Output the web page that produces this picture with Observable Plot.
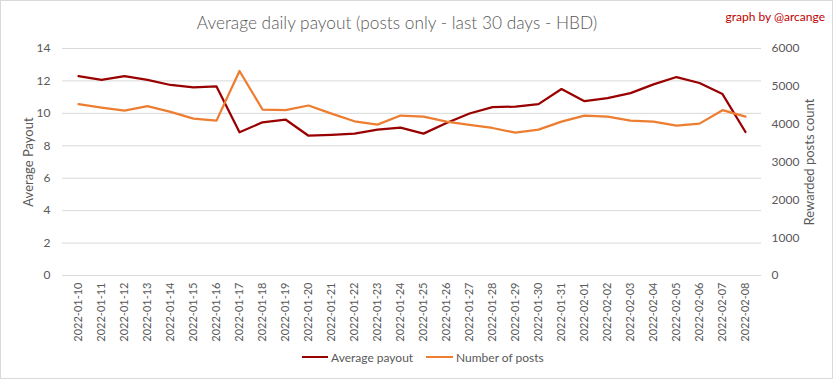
<!DOCTYPE html>
<html><head><meta charset="utf-8">
<script src="https://cdn.jsdelivr.net/npm/d3@7"></script>
<script src="https://cdn.jsdelivr.net/npm/@observablehq/plot@0.6"></script>
<style>
body{margin:0;background:#fff;font-family:Lato,"Open Sans",sans-serif;}
#chart{position:relative;width:833px;height:379px;overflow:hidden;background:#fff;}
#frame{position:absolute;left:0;top:0;right:0;bottom:0;border:1px solid #d9d9d9;pointer-events:none;}
#title{position:absolute;left:397px;top:22px;transform:translate(-50%,-50%);white-space:nowrap;font-size:17.3px;font-weight:300;color:#595959;}
#credit{position:absolute;right:8px;top:16px;transform:translateY(-50%);white-space:nowrap;font-size:12px;color:#c00000;}
#plot{position:absolute;left:0;top:40px;}
.ytitle{position:absolute;white-space:nowrap;font-size:13px;color:#595959;transform:translate(-50%,-50%) rotate(-90deg);}
.lg-line{position:absolute;height:2px;top:356px;}
.lg-text{position:absolute;top:357px;transform:translateY(-50%);font-size:12px;color:#595959;white-space:nowrap;}
</style></head><body>
<div id="chart">
  <div id="title">Average daily payout (posts only - last 30 days - HBD)</div>
  <div id="credit">graph by @arcange</div>
  <div id="plot"></div>
  <div class="ytitle" style="left:28px;top:162px;">Average Payout</div>
  <div class="ytitle" style="left:809px;top:162px;">Rewarded posts count</div>
  <div class="lg-line" style="left:302px;width:26px;background:#990000;"></div>
  <div class="lg-text" style="left:331px;">Average payout</div>
  <div class="lg-line" style="left:426px;width:27px;background:#ED7D31;"></div>
  <div class="lg-text" style="left:456px;">Number of posts</div>
  <div id="frame"></div>
</div>
<script>
const dates = ["2022-01-10","2022-01-11","2022-01-12","2022-01-13","2022-01-14","2022-01-15","2022-01-16","2022-01-17","2022-01-18","2022-01-19","2022-01-20","2022-01-21","2022-01-22","2022-01-23","2022-01-24","2022-01-25","2022-01-26","2022-01-27","2022-01-28","2022-01-29","2022-01-30","2022-01-31","2022-02-01","2022-02-02","2022-02-03","2022-02-04","2022-02-05","2022-02-06","2022-02-07","2022-02-08"];
const payout = [12.30,12.06,12.30,12.06,11.75,11.60,11.66,8.83,9.45,9.62,8.62,8.68,8.75,9.00,9.12,8.75,9.40,9.99,10.38,10.42,10.57,11.50,10.75,10.94,11.25,11.79,12.24,11.87,11.19,8.85];
const posts = [4528,4440,4360,4475,4325,4147,4094,5406,4387,4369,4493,4280,4076,3988,4227,4201,4068,3979,3899,3775,3855,4068,4227,4201,4094,4068,3961,4015,4369,4201];
const leftTicks = [0,2,4,6,8,10,12,14];
const rightTicks = [0,1000,2000,3000,4000,5000,6000];
const leftMax = 14, rightMax = 6000;

const data = dates.map((d,i)=>({date:d, payout:payout[i], posts:posts[i]}));
const toLeft = v => v * leftMax / rightMax;

const chart = Plot.plot({
  width: 833,
  height: 310,
  marginLeft: 62,
  marginRight: 72,
  marginTop: 8,
  marginBottom: 75,
  style: {color:"#595959", fontFamily:"Lato, 'Open Sans', sans-serif", fontSize:"12px", background:"transparent"},
  x: {type:"point", domain: dates, padding: 0.5},
  y: {domain:[0, leftMax]},
  marks: [
    Plot.gridY(leftTicks, {stroke:"#d9d9d9", strokeOpacity:1, strokeWidth:1}),
    Plot.line(data, {x:"date", y:"payout", stroke:"#990000", strokeWidth:2.25}),
    Plot.line(data, {x:"date", y: d => toLeft(d.posts), stroke:"#ED7D31", strokeWidth:2.25}),
    Plot.axisY(leftTicks, {anchor:"left", tickSize:0, tickPadding:12, label:null, fontSize:12}),
    Plot.axisY(rightTicks.map(toLeft), {anchor:"right", tickSize:0, tickPadding:10, label:null, fontSize:12, textAnchor:"start", tickFormat: v => String(Math.round(v*rightMax/leftMax))}),
    Plot.axisX({tickRotate:-90, tickSize:0, tickPadding:7, label:null, fontSize:11})
  ]
});
document.getElementById("plot").appendChild(chart);
</script>
</body></html>
